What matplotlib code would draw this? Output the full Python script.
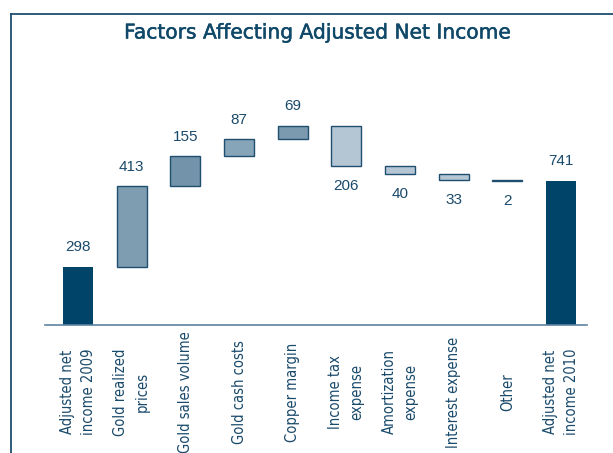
import matplotlib.pyplot as plt
import matplotlib.patheffects as pe
from matplotlib.lines import Line2D
import matplotlib.transforms as mtransforms

labels = ["Adjusted net\nincome 2009", "Gold realized\nprices", "Gold sales volume",
          "Gold cash costs", "Copper margin", "Income tax\nexpense",
          "Amortization\nexpense", "Interest expense", "Other",
          "Adjusted net\nincome 2010"]
changes = [298, 413, 155, 87, 69, -206, -40, -33, -2, 741]
kinds = ["total", "up", "up", "up", "up", "down", "down", "down", "down", "total"]

dark = "#00446a"
up_colors = ["#7e9db0", "#7293a9", "#86a5b9", "#7b9aaf"]
down_color = "#b4c6d3"
edge = "#1f4e6e"
text_col = "#1a4a6b"

fig = plt.figure(figsize=(6.13, 4.53), dpi=100)
ax = fig.add_axes([45 / 613, 128 / 453, 542 / 613, 225 / 453])

running = 0
ui = 0
for i, (v, k) in enumerate(zip(changes, kinds)):
    if k == "total":
        running = v
        ax.bar(i, v, width=0.56, color=dark, edgecolor=dark, linewidth=0)
        ax.annotate(str(v), (i, v), xytext=(0, 9), textcoords="offset points",
                    ha="center", va="bottom", fontsize=11, color=text_col,
                    family="Liberation Sans")
    elif k == "up":
        ax.bar(i, v, bottom=running, width=0.56, color=up_colors[ui], edgecolor=edge, linewidth=1.0)
        running += v
        ui += 1
        ax.annotate(str(v), (i, running), xytext=(0, 9), textcoords="offset points",
                    ha="center", va="bottom", fontsize=11, color=text_col,
                    family="Liberation Sans")
    else:
        running += v
        ax.bar(i, -v, bottom=running, width=0.56, color=down_color, edgecolor=edge, linewidth=1.0)
        ax.annotate(str(-v), (i, running), xytext=(0, -9.5), textcoords="offset points",
                    ha="center", va="top", fontsize=11, color=text_col,
                    family="Liberation Sans")

ax.set_xlim(-0.615, 9.484)
ax.set_ylim(0, 1154)
for s in ["top", "right", "left"]:
    ax.spines[s].set_visible(False)
ax.spines["bottom"].set_color("#5d83a0")
ax.spines["bottom"].set_linewidth(1.2)
ax.set_yticks([])
ax.set_xticks([])

trans = mtransforms.blended_transform_factory(ax.transData, fig.transFigure)
for i, lab in enumerate(labels):
    ax.text(i, 1 - 392 / 453, lab, transform=trans, rotation=90, ha="center", va="center",
            multialignment="center", fontsize=10.5, color=text_col,
            family="DejaVu Sans", fontstretch="condensed", linespacing=1.55)

title = fig.text(318 / 613, 1 - 33 / 453, "Factors Affecting Adjusted Net Income",
                 ha="center", va="center", fontsize=14, color="#0f4868", family="DejaVu Sans",
                 path_effects=[pe.withStroke(linewidth=0.35, foreground="#0f4868")])
# size the title to the reference width
renderer = fig.canvas.get_renderer()
w = title.get_window_extent(renderer).width
title.set_fontsize(14 * 388 / w)

fig.add_artist(Line2D([11 / 613, 1.0], [1 - 14 / 453, 1 - 14 / 453], transform=fig.transFigure,
                      color=edge, linewidth=1.3))
fig.add_artist(Line2D([11 / 613, 11 / 613], [0, 1 - 14 / 453], transform=fig.transFigure,
                      color=edge, linewidth=1.3))

fig.savefig("out.png", dpi=100)
